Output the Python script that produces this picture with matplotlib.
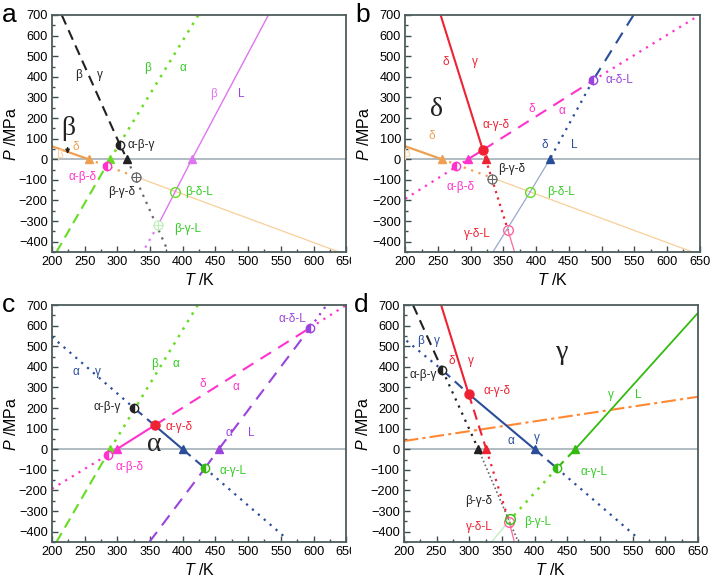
import matplotlib.pyplot as plt
from matplotlib.ticker import MultipleLocator
from matplotlib.transforms import Bbox

plt.rcParams["font.family"] = ["Liberation Sans", "DejaVu Sans"]
plt.rcParams["mathtext.fontset"] = "custom"
plt.rcParams["mathtext.it"] = "Liberation Sans:italic"
plt.rcParams["mathtext.rm"] = "Liberation Sans"

# ── colours ──────────────────────────────────────────────────────────────
BLK, GRY = "#222222", "#666666"
GRN, GRN2, GRN_L = "#66dd22", "#33bb11", "#bfeebb"
ORG, ORG_L, DOR = "#eea050", "#f8cf98", "#ff8833"
VIO, RED, PNK, MAG = "#dd77ee", "#ee2233", "#ff6699", "#ff33cc"
NAV, NAV_L, PUR = "#2a4d9a", "#9aa8cc", "#9944dd"
TXT_GRN = "#33cc22"

# ── data: phase boundaries (T in K, P in MPa) ────────────────────────────
# panel a
A_BG_T, A_BG_P = [215, 304, 315, 378], [700, 70, 0, -450]
A_BA_T, A_BA_P = [207, 289, 424], [-450, 0, 700]
A_BD_T, A_BD_P = [200, 256, 330, 645], [63, 0, -87, -457]
A_BL_T, A_BL_P = [531, 414, 362, 339], [700, 0, -321, -450]
# panel b
B_DG_T, B_DG_P = [254, 318.6, 323, 357, 367], [700, 45, 0, -344, -450]
B_DA_T, B_DA_P = [200, 278, 296, 318.6, 487, 650], [-192, -36, 0, 45, 382, 700]
B_BD_T, B_BD_P = [200, 256, 330, 645], [63, 0, -87, -457]
B_DL_T, B_DL_P = [549, 487, 421, 391, 334], [700, 383, 0, -158, -450]
# panel c
C_AG_T, C_AG_P = [200, 326, 357, 400, 434, 560], [546, 199, 116, 0, -92, -437]
C_BA_T, C_BA_P = [207, 289, 423], [-450, 0, 700]
C_DA_T, C_DA_P = [200, 285, 299, 357, 595, 650], [-192, -28, 0, 116, 590, 700]
C_AL_T, C_AL_P = [349, 434, 455, 595, 620], [-450, -92, 0, 590, 700]
# panel d
D_BG_T, D_BG_P = [214, 259, 314, 375], [700, 384, 0, -450]
D_DG_T, D_DG_P = [257, 299, 326, 361, 369], [700, 269, 0, -352, -450]
D_AG_T, D_AG_P = [204, 259, 299, 400, 434, 560], [527, 384, 269, 0, -92, -437]
D_GL_T, D_GL_P = [650, 462, 434, 363, 334], [663, 0, -92, -340, -450]
D_OR_T, D_OR_P = [200, 650], [40, 255]

# ── data: invariant points ───────────────────────────────────────────────
A_PT_T = [304, 256, 289, 315, 414, 284, 328, 388, 362]
A_PT_P = [70, 0, 0, 0, 0, -33, -84, -157, -321]
B_PT_T = [318.6, 256, 296, 323, 421, 278, 332, 391, 357, 487]
B_PT_P = [45, 0, 0, 0, 0, -34, -94, -158, -344, 383]
C_PT_T = [326, 357, 289, 299, 400, 455, 285, 434, 595]
C_PT_P = [199, 116, 0, 0, 0, 0, -28, -92, 590]
D_PT_T = [259, 299, 314, 326, 400, 462, 434, 361, 363]
D_PT_P = [384, 269, 0, 0, 0, 0, -92, -352, -338]

# ── data: text labels ────────────────────────────────────────────────────
A_TX = ["α-β-γ", "α-β-δ", "β-γ-δ", "β-δ-L", "β-γ-L",
        "β", "γ", "β", "α", "β", "L", "β", "δ"]
A_TX_T = [336, 247, 306, 425, 408, 241, 273, 346, 401, 447, 489, 211, 236]
A_TX_P = [70, -84, -160, -157, -339, 409, 409, 441, 441, 315, 315, 20, 60]
B_TX = ["α-γ-δ", "α-β-δ", "β-γ-δ", "β-δ-L", "γ-δ-L", "α-δ-L",
        "δ", "γ", "δ", "α", "δ", "L", "β", "δ"]
B_TX_T = [339, 284, 362, 438, 310, 527, 262, 306, 393, 439, 413, 459, 202, 240]
B_TX_P = [165, -137, -48, -158, -363, 383, 473, 473, 242, 234, 68, 68, 24, 113]
C_TX = ["α-β-γ", "α-γ-δ", "α-β-δ", "α-γ-L", "α-δ-L",
        "α", "γ", "β", "α", "δ", "α", "α", "L"]
C_TX_T = [285, 395, 319, 477, 568, 237, 270, 357, 389, 431, 481, 470, 504]
C_TX_P = [203, 110, -87, -103, 630, 376, 376, 413, 413, 315, 304, 78, 78]
D_TX = ["α-β-γ", "α-γ-δ", "α-γ-L", "β-γ-δ", "γ-δ-L", "β-γ-L",
        "β", "γ", "δ", "γ", "γ", "L", "α", "γ"]
D_TX_T = [229, 342, 490, 314, 315, 405, 225, 250, 274, 302, 516, 559, 364, 404]
D_TX_P = [360, 283, -110, -250, -376, -352, 525, 525, 428, 428, 261, 261, 40, 56]

# big phase symbols
BIG_TX = ["β", "δ", "α", "γ"]
BIG_T = [225, 247, 357, 442]
BIG_P = [150, 242, 21, 471]


def draw_boundary(ax, T, P, segs):
    for i, (c, ls, lw) in enumerate(segs):
        ax.plot(T[i:i + 2], P[i:i + 2], color=c, ls=ls, lw=lw, zorder=2)


def draw_points(ax, T, P, kinds):
    for t, p, (kind, c) in zip(T, P, kinds):
        if kind == "tri":
            ax.plot(t, p, "^", ms=5.5, color=c, zorder=4)
        elif kind == "full":
            ax.plot(t, p, "o", ms=6.5, color=c, zorder=4)
        elif kind == "half":
            ax.plot(t, p, "o", ms=6, fillstyle="left", mfc=c, mfcalt="white",
                    mec=c, mew=1, zorder=4)
        elif kind == "open":
            ax.plot(t, p, "o", ms=7, mfc="none", mec=c, mew=1, zorder=4)
        elif kind == "cross":
            ax.plot(t, p, "o", ms=6.5, mfc="white", mec=c, mew=0.9, zorder=4)
            ax.plot(t, p, "+", ms=6.5, color=c, mew=0.8, zorder=5)


def draw_texts(ax, labels, T, P, colors):
    for s, t, p, c in zip(labels, T, P, colors):
        ax.text(t, p, s, color=c, fontsize=8.5, ha="center", va="center", zorder=6)


def setup(ax, letter):
    ax.set_xlim(200, 650)
    ax.set_ylim(-450, 700)
    ax.axhline(0, color="#a9b6bc", lw=1.3, zorder=1)
    ax.xaxis.set_major_locator(MultipleLocator(50))
    ax.xaxis.set_minor_locator(MultipleLocator(25))
    ax.yaxis.set_major_locator(MultipleLocator(100))
    ax.yaxis.set_minor_locator(MultipleLocator(50))
    ax.tick_params(which="both", direction="in", top=False, right=False,
                   labelsize=9.2, color="#3d4d4d", width=1)
    ax.tick_params(which="major", length=4, pad=3)
    ax.tick_params(which="minor", length=2.5)
    for sp in ax.spines.values():
        sp.set_color("#4d5d5d")
        sp.set_linewidth(1.3)
    ax.set_xlabel("$T$ /K", fontsize=11.5, labelpad=3)
    ax.set_ylabel("$P$ /MPa", fontsize=11.5, labelpad=0)
    ax.text(-0.17, 1.0, letter, transform=ax.transAxes, fontsize=19,
            ha="left", va="center")


fig = plt.figure(figsize=(7.11, 5.83), dpi=100)
W, H = 0.414, 0.4065
ax_a = fig.add_axes([0.073, 0.5678, W, H])
ax_b = fig.add_axes([0.570, 0.5678, W, H])
ax_c = fig.add_axes([0.073, 0.0703, W, H])
ax_d = fig.add_axes([0.568, 0.0703, W, H])
for ax, let in zip([ax_a, ax_b, ax_c, ax_d], "abcd"):
    setup(ax, let)

# ── panel a ──────────────────────────────────────────────────────────────
draw_boundary(ax_a, A_BG_T, A_BG_P, [(BLK, (0, (5, 3)), 1.5), (BLK, (0, (5, 3)), 1.5),
                                     (GRY, (0, (1, 2.5)), 1.6)])
draw_boundary(ax_a, A_BA_T, A_BA_P, [(GRN, (0, (5, 3)), 1.5), (GRN, (0, (1, 2.5)), 1.8)])
draw_boundary(ax_a, A_BD_T, A_BD_P, [(ORG, "-", 1.6), (ORG, (0, (1, 2.5)), 1.6),
                                     (ORG_L, "-", 0.9)])
draw_boundary(ax_a, A_BL_T, A_BL_P, [(VIO, "-", 1.0), (VIO, "-", 1.0),
                                     (VIO, (0, (1, 2.5)), 1.6)])
draw_points(ax_a, A_PT_T, A_PT_P,
            [("half", BLK), ("tri", ORG), ("tri", GRN), ("tri", BLK), ("tri", VIO),
             ("half", MAG), ("cross", GRY), ("open", GRN), ("cross", GRN_L)])
draw_texts(ax_a, A_TX, A_TX_T, A_TX_P,
           [BLK, MAG, BLK, TXT_GRN, TXT_GRN, BLK, BLK, TXT_GRN, TXT_GRN,
            VIO, PUR, ORG_L, ORG])
ax_a.annotate("", xy=(224, 12), xytext=(224, 70),
              arrowprops=dict(arrowstyle="-|>", color=BLK, lw=1, mutation_scale=6))

# ── panel b ──────────────────────────────────────────────────────────────
draw_boundary(ax_b, B_DG_T, B_DG_P, [(RED, "-", 1.5), (RED, (0, (1, 2)), 1.6),
                                     (RED, (0, (1, 2)), 1.6), (PNK, "-", 0.9)])
draw_boundary(ax_b, B_DA_T, B_DA_P, [(MAG, (0, (1, 2.5)), 1.6), (MAG, (0, (1, 2.5)), 1.6),
                                     (MAG, "-", 1.5), (MAG, (0, (6, 4)), 1.5),
                                     (MAG, (0, (1, 2.5)), 1.6)])
draw_boundary(ax_b, B_BD_T, B_BD_P, [(ORG, "-", 1.6), (ORG, (0, (1, 2.5)), 1.6),
                                     (ORG_L, "-", 0.9)])
draw_boundary(ax_b, B_DL_T, B_DL_P, [(NAV, (0, (6, 4)), 1.5), (NAV, (0, (1, 2.5)), 1.6),
                                     (NAV_L, "-", 0.9), (NAV_L, "-", 0.9)])
draw_points(ax_b, B_PT_T, B_PT_P,
            [("full", RED), ("tri", ORG), ("tri", MAG), ("tri", RED), ("tri", NAV),
             ("half", MAG), ("cross", GRY), ("open", GRN), ("open", PNK), ("half", PUR)])
draw_texts(ax_b, B_TX, B_TX_T, B_TX_P,
           [RED, MAG, BLK, TXT_GRN, RED, PUR, RED, RED, MAG, MAG, NAV, NAV,
            ORG_L, ORG])

# ── panel c ──────────────────────────────────────────────────────────────
draw_boundary(ax_c, C_AG_T, C_AG_P, [(NAV, (0, (1, 2.5)), 1.6), (NAV, (0, (5, 3)), 1.5),
                                     (NAV, "-", 1.5), (NAV, (0, (5, 3)), 1.5),
                                     (NAV, (0, (1, 2.5)), 1.6)])
draw_boundary(ax_c, C_BA_T, C_BA_P, [(GRN, (0, (5, 3)), 1.5), (GRN, (0, (1, 2.5)), 1.8)])
draw_boundary(ax_c, C_DA_T, C_DA_P, [(MAG, (0, (1, 2.5)), 1.6), (MAG, "-", 1.5),
                                     (MAG, "-", 1.5), (MAG, (0, (6, 4)), 1.5),
                                     (MAG, (0, (1, 2.5)), 1.6)])
draw_boundary(ax_c, C_AL_T, C_AL_P, [(PUR, (0, (6, 4)), 1.5), (PUR, (0, (6, 4)), 1.5),
                                     (PUR, (0, (6, 4)), 1.5), (PUR, (0, (1, 2.5)), 1.6)])
draw_points(ax_c, C_PT_T, C_PT_P,
            [("half", BLK), ("full", RED), ("tri", GRN), ("tri", MAG), ("tri", NAV),
             ("tri", PUR), ("half", MAG), ("half", GRN2), ("half", PUR)])
draw_texts(ax_c, C_TX, C_TX_T, C_TX_P,
           [BLK, RED, MAG, TXT_GRN, PUR, NAV, NAV, TXT_GRN, TXT_GRN, MAG, MAG,
            PUR, PUR])

# ── panel d ──────────────────────────────────────────────────────────────
draw_boundary(ax_d, D_OR_T, D_OR_P, [(DOR, (0, (7, 2, 1.5, 2)), 1.5)])
draw_boundary(ax_d, D_BG_T, D_BG_P, [(BLK, (0, (5, 3)), 1.5), (BLK, (0, (1, 2.5)), 1.6),
                                     (GRY, (0, (1, 1.5)), 1.2)])
draw_boundary(ax_d, D_DG_T, D_DG_P, [(RED, "-", 1.5), (RED, (0, (5, 3)), 1.5),
                                     (RED, (0, (1, 2.5)), 1.6), (PNK, "-", 0.9)])
draw_boundary(ax_d, D_AG_T, D_AG_P, [(NAV, (0, (1, 2.5)), 1.6), (NAV, (0, (5, 3)), 1.5),
                                     (NAV, "-", 1.5), (NAV, (0, (5, 3)), 1.5),
                                     (NAV, (0, (1, 2.5)), 1.6)])
draw_boundary(ax_d, D_GL_T, D_GL_P, [(GRN2, "-", 1.3), (GRN2, (0, (5, 3)), 1.5),
                                     (GRN, (0, (1, 2.5)), 1.8), (GRN_L, "-", 0.9)])
draw_points(ax_d, D_PT_T, D_PT_P,
            [("half", BLK), ("full", RED), ("tri", BLK), ("tri", RED), ("tri", NAV),
             ("tri", GRN2), ("half", GRN2), ("open", PNK), ("open", GRN2)])
draw_texts(ax_d, D_TX, D_TX_T, D_TX_P,
           [BLK, RED, TXT_GRN, BLK, RED, TXT_GRN, NAV, NAV, RED, RED, TXT_GRN,
            TXT_GRN, NAV, NAV])

# big phase symbols
for ax, s, t, p in zip([ax_a, ax_b, ax_c, ax_d], BIG_TX, BIG_T, BIG_P):
    ax.text(t, p, s, fontsize=20, family=["Liberation Serif", "DejaVu Serif"],
            ha="center", va="center", color=BLK, zorder=6)

# left panels: last x label is cut off by the neighbouring panel
fig.canvas.draw()
clip = Bbox.from_extents(0, 0, 351, 583)
for ax in (ax_a, ax_c):
    for lbl in ax.get_xticklabels():
        lbl.set_clip_on(True)
        lbl.set_clip_box(clip)

fig.savefig("out.png", dpi=100)
